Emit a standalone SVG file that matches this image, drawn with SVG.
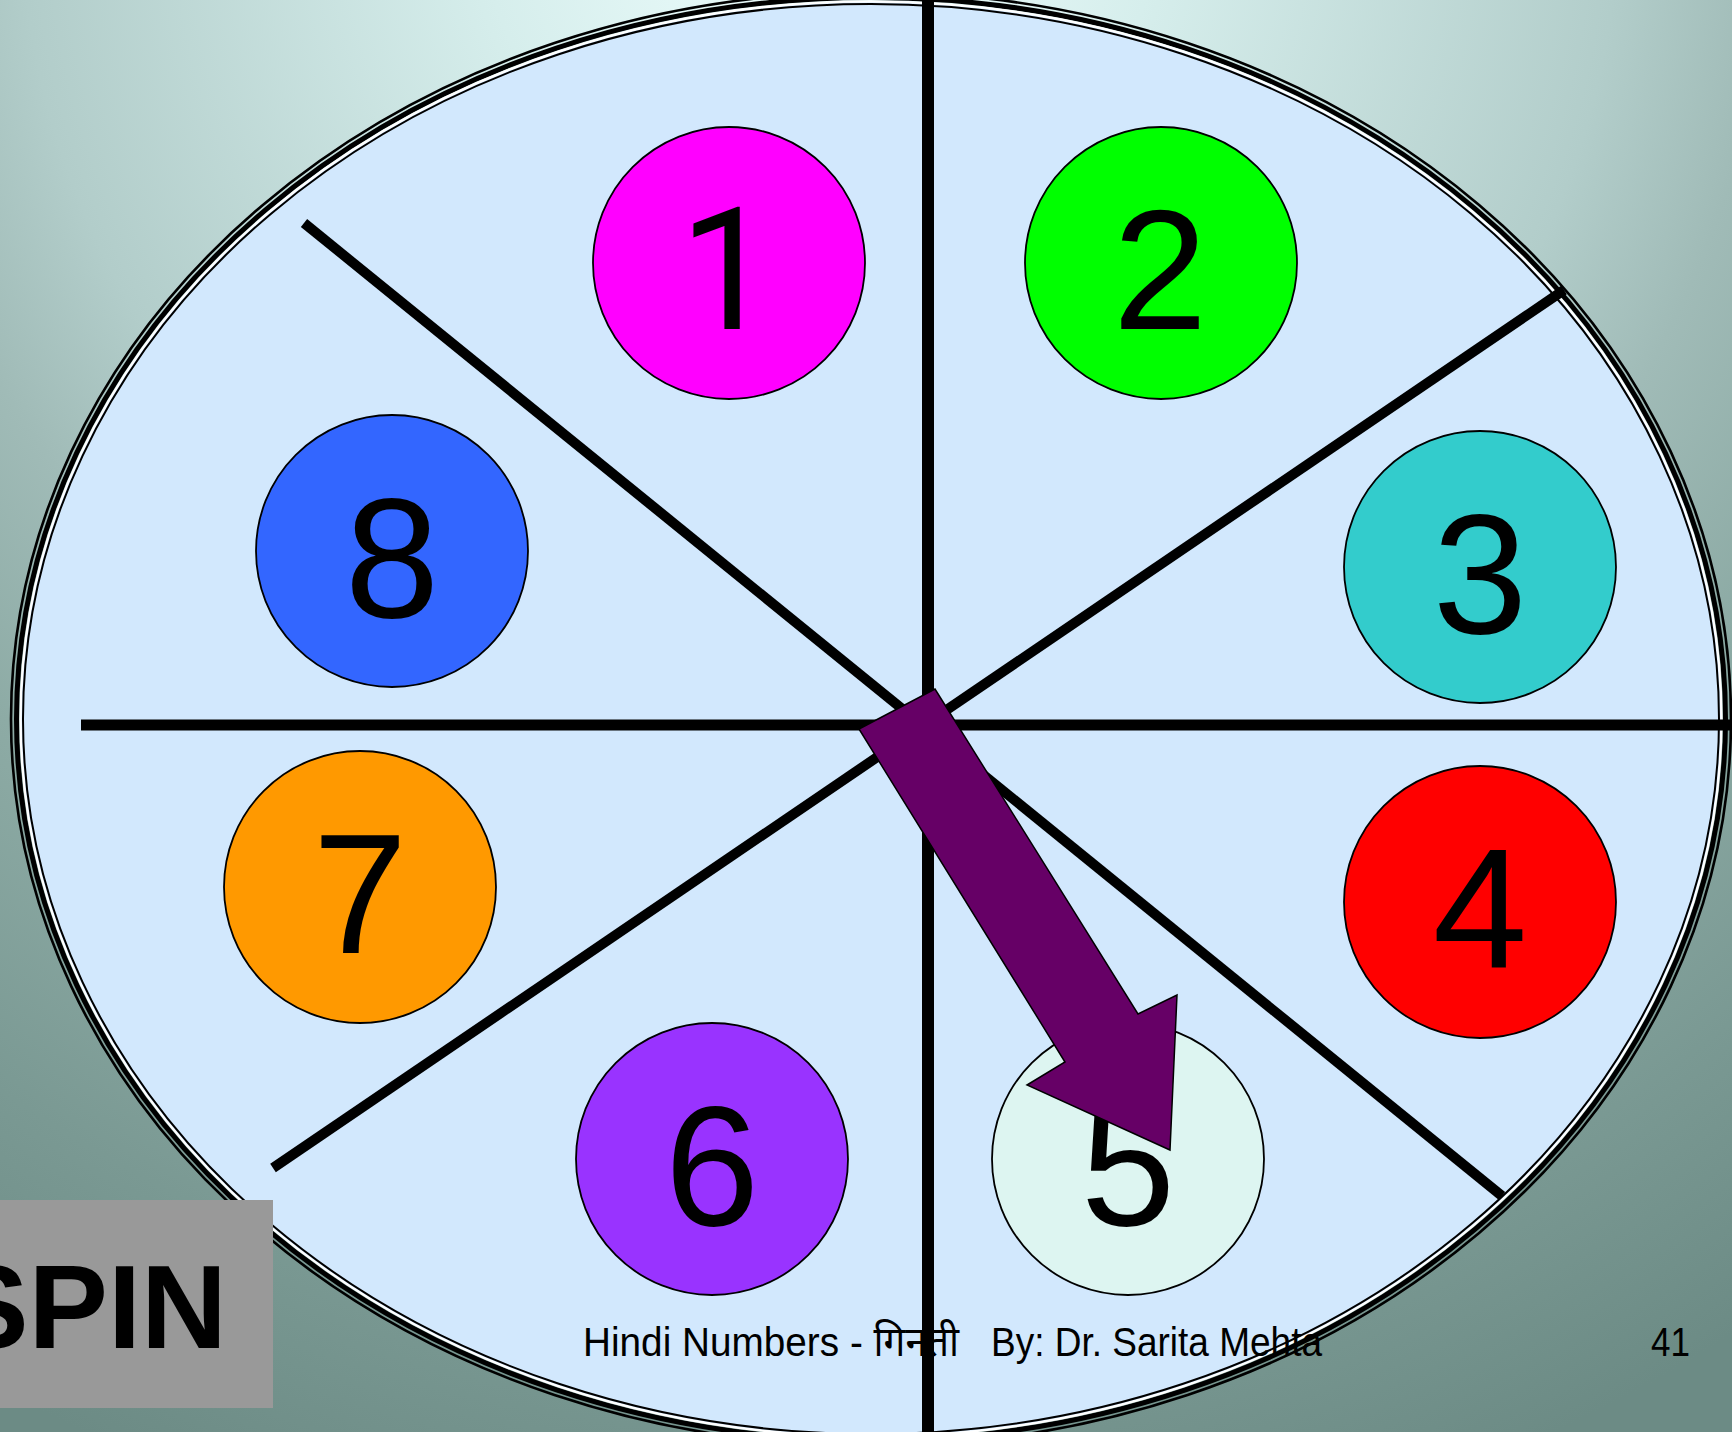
<svg xmlns="http://www.w3.org/2000/svg" width="1732" height="1432" viewBox="0 0 1732 1432">
  <defs>
    <radialGradient id="bg" gradientUnits="userSpaceOnUse" cx="820" cy="-100" r="1700">
      <stop offset="0" stop-color="#F0FFFF"/>
      <stop offset="0.2" stop-color="#D6EEEC"/>
      <stop offset="0.47" stop-color="#B2CDCA"/>
      <stop offset="0.56" stop-color="#A0BBB7"/>
      <stop offset="0.68" stop-color="#8DABA5"/>
      <stop offset="0.85" stop-color="#7A9993"/>
      <stop offset="1" stop-color="#6C8B85"/>
    </radialGradient>
    <style>
      .ring { fill: none; stroke: #000; }
      .div { stroke: #000; stroke-linecap: butt; fill: none; }
      .disc { stroke: #000; stroke-width: 1.8; }
      .num { font-family: "Liberation Sans", Arial, sans-serif; font-size: 170px; text-anchor: middle; fill: #000; }
      .foot { font-family: "Liberation Sans", Arial, "Noto Sans", sans-serif; font-size: 41px; fill: #000; }
    </style>
  </defs>

  <rect id="background" x="0" y="0" width="1732" height="1432" fill="url(#bg)"/>

  <g id="wheel">
    <ellipse cx="871" cy="719" rx="851" ry="718" fill="#D2E8FD"/>
    <ellipse class="ring" cx="871" cy="719" rx="860" ry="727" stroke-width="2.6"/>
    <ellipse class="ring" cx="871" cy="719" rx="854.5" ry="721.5" stroke-width="5"/>
    <ellipse cx="871" cy="719" rx="850.5" ry="717.5" fill="none" stroke="#FFFFFF" stroke-width="2.2"/>
    <ellipse class="ring" cx="871" cy="719" rx="848" ry="715" stroke-width="2"/>
  </g>

  <g id="dividers">
    <line class="div" x1="928" y1="0" x2="928" y2="1432" stroke-width="12"/>
    <line class="div" x1="81" y1="725" x2="1732" y2="725" stroke-width="11"/>
    <line class="div" x1="304" y1="223" x2="1502" y2="1196" stroke-width="10"/>
    <line class="div" x1="1564" y1="290" x2="273" y2="1168" stroke-width="10"/>
  </g>

  <g id="n1"><circle class="disc" cx="729" cy="263" r="136" fill="#FF00FF"/><text class="num" x="727" y="329" style="font-family: Roboto, 'Liberation Sans', sans-serif">1</text></g>
  <g id="n2"><circle class="disc" cx="1161" cy="263" r="136" fill="#00FF00"/><text class="num" x="1160" y="329">2</text></g>
  <g id="n3"><circle class="disc" cx="1480" cy="567" r="136" fill="#33CCCC"/><text class="num" x="1480" y="633">3</text></g>
  <g id="n4"><circle class="disc" cx="1480" cy="902" r="136" fill="#FF0000"/><text class="num" x="1480" y="968">4</text></g>
  <g id="n5"><circle class="disc" cx="1128" cy="1159" r="136" fill="#DDF5F1"/><text class="num" x="1128" y="1225">5</text></g>
  <g id="n6"><circle class="disc" cx="712" cy="1159" r="136" fill="#9933FF"/><text class="num" x="712" y="1225">6</text></g>
  <g id="n7"><circle class="disc" cx="360" cy="887" r="136" fill="#FF9900"/><text class="num" x="360" y="953">7</text></g>
  <g id="n8"><circle class="disc" cx="392" cy="551" r="136" fill="#3366FF"/><text class="num" x="392" y="617">8</text></g>

  <g id="pointer">
    <polygon points="859,729 935,689 1138,1014 1177,995 1170,1150 1027,1085 1065,1062" fill="#660066" stroke="#000" stroke-width="1.5" stroke-linejoin="miter"/>
  </g>

  <g id="footer">
    <text class="foot" x="583" y="1356" textLength="376" lengthAdjust="spacingAndGlyphs">Hindi Numbers - गिनती</text>
    <text class="foot" x="991" y="1356" textLength="331" lengthAdjust="spacingAndGlyphs">By: Dr. Sarita Mehta</text>
    <text class="foot" x="1651" y="1356" textLength="39" lengthAdjust="spacingAndGlyphs">41</text>
  </g>

  <g id="spin">
    <rect x="0" y="1200" width="273" height="208" fill="#999999"/>
    <text x="227" y="1348" font-family="Liberation Sans, Arial, sans-serif" font-weight="bold" font-size="119" text-anchor="end" fill="#000">SPIN</text>
  </g>
</svg>
